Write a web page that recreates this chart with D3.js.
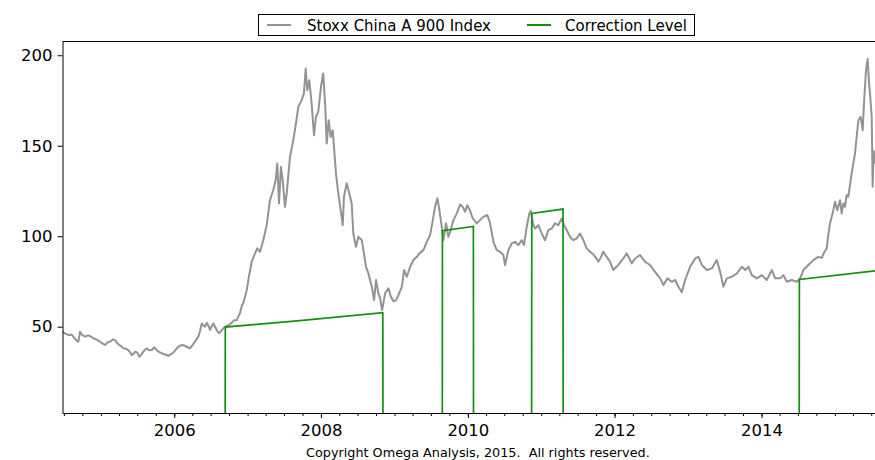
<!DOCTYPE html>
<html><head><meta charset="utf-8">
<script src="https://cdn.jsdelivr.net/npm/d3@7"></script>
<style>body{margin:0;background:#fff}svg{display:block}text{font-family:"DejaVu Sans",sans-serif;fill:#000}</style>
</head><body><svg id="chart" width="875" height="460"></svg>
<script>
// Stoxx China A 900 Index (time in fractional years, value)
const indexYears = [
2004.481,2004.512,2004.563,2004.604,2004.636,2004.677,2004.694,2004.717,2004.745,2004.785,2004.826,2004.853,2004.898,2004.941,2004.989,
2005.030,2005.057,2005.098,2005.125,2005.166,2005.193,2005.221,2005.248,2005.282,2005.307,2005.343,2005.375,2005.405,2005.421,2005.446,
2005.466,2005.493,2005.525,2005.555,2005.579,2005.602,2005.625,2005.657,2005.693,2005.725,2005.752,2005.783,2005.820,2005.852,2005.888,
2005.920,2005.956,2005.988,2006.034,2006.065,2006.102,2006.134,2006.170,2006.215,2006.249,2006.283,2006.328,2006.351,2006.375,2006.392,
2006.420,2006.443,2006.467,2006.488,2006.508,2006.533,2006.556,2006.579,2006.606,2006.624,2006.644,2006.669,2006.696,2006.715,2006.747,
2006.783,2006.815,2006.852,2006.862,2006.896,2006.924,2006.941,2006.965,2006.988,2007.010,2007.056,2007.101,2007.132,2007.169,2007.214,
2007.260,2007.305,2007.350,2007.383,2007.405,2007.428,2007.455,2007.478,2007.510,2007.533,2007.578,2007.623,2007.659,2007.691,2007.737,
2007.768,2007.792,2007.813,2007.841,2007.873,2007.905,2007.932,2007.963,2008.000,2008.031,2008.059,2008.078,2008.105,2008.132,2008.159,
2008.177,2008.204,2008.236,2008.268,2008.296,2008.313,2008.350,2008.386,2008.418,2008.440,2008.477,2008.508,2008.555,2008.577,2008.613,
2008.645,2008.691,2008.722,2008.749,2008.781,2008.804,2008.831,2008.849,2008.872,2008.917,2008.950,2008.985,2009.022,2009.053,2009.100,
2009.131,2009.168,2009.213,2009.258,2009.304,2009.339,2009.394,2009.440,2009.485,2009.522,2009.553,2009.585,2009.612,2009.644,2009.666,
2009.703,2009.734,2009.767,2009.803,2009.849,2009.894,2009.931,2009.962,2009.993,2010.030,2010.067,2010.121,2010.166,2010.211,2010.266,
2010.303,2010.348,2010.394,2010.439,2010.484,2010.507,2010.552,2010.598,2010.643,2010.688,2010.734,2010.766,2010.802,2010.838,2010.861,
2010.888,2010.916,2010.961,2011.007,2011.052,2011.097,2011.143,2011.188,2011.233,2011.279,2011.311,2011.347,2011.392,2011.437,2011.484,
2011.529,2011.574,2011.620,2011.665,2011.710,2011.756,2011.778,2011.808,2011.846,2011.892,2011.937,2011.982,2012.050,2012.119,2012.165,
2012.233,2012.278,2012.346,2012.414,2012.482,2012.550,2012.619,2012.664,2012.718,2012.778,2012.823,2012.868,2012.914,2012.959,2013.027,
2013.095,2013.140,2013.187,2013.255,2013.323,2013.391,2013.436,2013.481,2013.527,2013.596,2013.664,2013.732,2013.777,2013.822,2013.868,
2013.936,2014.004,2014.072,2014.141,2014.186,2014.254,2014.299,2014.345,2014.413,2014.481,2014.526,2014.571,2014.639,2014.707,2014.775,
2014.821,2014.853,2014.889,2014.911,2014.934,2014.957,2014.979,2015.002,2015.033,2015.070,2015.093,2015.115,2015.138,2015.161,2015.183,
2015.229,2015.274,2015.320,2015.352,2015.379,2015.397,2015.424,2015.447,2015.465,2015.479,2015.502,2015.515,2015.530,2015.547
];
const indexValues = [
47.2,46.3,45.4,45.6,44.0,42.0,41.7,47.2,45.5,44.5,45.2,44.8,43.6,42.8,41.7,
40.5,39.9,41.5,41.7,43.0,42.6,41.0,40.0,39.0,38.0,37.8,37.1,35.5,34.3,35.0,
36.2,35.8,33.4,34.8,36.2,37.2,38.0,37.0,37.1,38.6,37.5,36.2,35.5,34.9,34.5,
33.8,34.8,35.6,38.0,39.2,39.9,39.6,38.9,38.0,39.8,41.7,44.5,47.5,51.8,51.0,
50.0,52.2,50.5,48.2,50.0,51.8,50.0,48.2,46.5,46.7,48.0,49.1,50.0,50.4,51.0,
52.2,53.5,53.7,54.6,57.4,62.0,62.9,66.5,70.2,75.8,85.9,90.5,93.3,91.4,97.8,
106.1,119.9,125.5,131.0,140.2,118.1,138.3,131.0,116.2,123.6,143.8,153.1,162.3,171.4,175.2,
178.9,192.7,180.7,186.2,173.3,155.8,165.9,168.7,182.5,189.9,171.4,151.2,164.1,154.9,158.6,
149.4,134.7,123.6,114.4,106.1,121.8,129.2,123.6,118.1,101.5,94.1,99.7,97.8,92.3,83.1,
79.5,72.1,64.7,75.8,68.4,65.7,59.2,62.9,68.4,71.2,66.5,64.0,64.7,67.5,72.0,
81.3,77.6,83.1,86.8,88.6,90.5,92.3,96.9,100.6,108.9,116.2,120.9,114.4,105.2,97.8,
107.1,99.7,103.4,108.9,112.6,117.5,116.2,113.5,117.2,114.0,109.8,107.1,108.9,110.7,111.7,
107.1,96.9,92.3,91.4,89.6,84.1,92.3,96.0,96.9,95.1,97.8,95.1,105.2,112.6,114.0,
106.5,104.3,106.1,101.5,97.8,103.4,104.3,107.1,106.1,109.8,106.1,103.4,99.7,97.8,98.8,
101.5,97.8,93.3,91.4,90.0,87.5,85.9,88.0,91.4,88.6,85.9,81.3,84.1,87.7,90.5,
85.0,87.7,89.6,85.9,84.1,80.3,76.7,73.0,76.7,74.8,75.8,72.1,69.0,75.8,83.1,
87.7,88.6,84.1,81.3,82.2,86.8,80.3,72.1,76.7,77.6,79.5,83.1,81.3,83.1,78.5,
76.7,78.5,75.8,81.3,76.7,76.7,78.5,74.8,75.8,74.8,76.7,81.3,84.1,86.8,88.6,
88.0,91.0,93.3,101.0,107.1,110.7,114.4,119.0,114.4,119.9,112.6,118.1,116.2,122.7,121.8,
134.7,145.7,164.1,165.9,158.6,173.3,191.7,198.0,185.0,178.9,165.9,127.3,147.0,140.0
];
// Correction Level (0 = no correction in force)
const corrYears  = [2004.481,2006.694,2006.696,2007.750,2008.841,2008.843,2009.651,2009.653,2010.075,2010.077,2010.869,2010.871,2011.297,2011.299,2014.514,2014.516,2015.547];
const corrValues = [0,0,49.8,53.5,57.7,0,0,103.0,105.4,0,0,112.6,115.0,0,0,76.1,80.9];

const yTicks = [50,100,150,200];
const xTickYears = [2006,2008,2010,2012,2014];
const seriesNames = ["Stoxx China A 900 Index","Correction Level"];
const copyrightText = "Copyright Omega Analysis, 2015.  All rights reserved.";

function toDate(t){const yr=Math.floor(t);const a=Date.UTC(yr,0,1),b=Date.UTC(yr+1,0,1);return new Date(a+(t-yr)*(b-a));}

const svg=d3.select("#chart");
const L=62.5,R=875,T=41.5,B=413;
const GRAY="#939393",GREEN="#119111";
const x=d3.scaleUtc().domain([toDate(2004.481),toDate(2015.547)]).range([62.7,875]);
const y=d3.scaleLinear().domain([2.3,207.6]).range([B,T]);

svg.append("defs").append("clipPath").attr("id","clip")
  .append("rect").attr("x",L).attr("y",T).attr("width",R-L).attr("height",B-T);

const idx=indexYears.map((t,i)=>({d:toDate(t),v:indexValues[i]}));
const corr=corrYears.map((t,i)=>({d:toDate(t),v:corrValues[i]}));
const line=d3.line().x(p=>x(p.d)).y(p=>y(p.v));

const g=svg.append("g").attr("clip-path","url(#clip)");
g.append("path").datum(idx).attr("d",line).attr("fill","none").attr("stroke",GRAY).attr("stroke-width",2).attr("stroke-linejoin","round");
g.append("path").datum(corr).attr("d",line).attr("fill","none").attr("stroke",GREEN).attr("stroke-width",1.7);

// minor x ticks (quarterly)
const minor=svg.append("g").attr("transform",`translate(0,${B})`)
  .call(d3.axisBottom(x).ticks(d3.utcMonth.every(3)).tickSize(3).tickFormat(""));
minor.select(".domain").remove();
// major x ticks
const xa=svg.append("g").attr("transform",`translate(0,${B})`)
  .call(d3.axisBottom(x).tickValues(xTickYears.map(yv=>new Date(Date.UTC(yv,0,1)))).tickSize(5).tickSizeOuter(0).tickFormat(d3.utcFormat("%Y")));
xa.selectAll("text").attr("y",23).attr("dy",null).style("font-size","16.5px");
svg.selectAll(".tick line").attr("stroke","#000");
xa.select(".domain").attr("stroke","#000");

const ya=svg.append("g").attr("transform",`translate(${L},0)`)
  .call(d3.axisLeft(y).tickValues(yTicks).tickSize(5).tickSizeOuter(0).tickPadding(5));
ya.selectAll("text").style("font-size","16.5px");
ya.select(".domain").attr("stroke","#000");
svg.append("line").attr("x1",L).attr("x2",R).attr("y1",T).attr("y2",T).attr("stroke","#000");

// legend
const lg=svg.append("g");
lg.append("rect").attr("x",258.5).attr("y",14.5).attr("width",436).attr("height",21).attr("fill","#fff").attr("stroke","#000");
const items=[{n:seriesNames[0],c:GRAY,x0:267,tx:307},{n:seriesNames[1],c:GREEN,x0:527,tx:565}];
items.forEach(it=>{
  lg.append("line").attr("x1",it.x0).attr("x2",it.x0+24).attr("y1",25).attr("y2",25).attr("stroke",it.c).attr("stroke-width",2);
  lg.append("text").attr("x",it.tx).attr("y",30.5).style("font-size","15px").text(it.n);
});

svg.append("text").attr("x",306).attr("y",457).style("font-size","12.8px").style("white-space","pre").text(copyrightText);
</script></body></html>
